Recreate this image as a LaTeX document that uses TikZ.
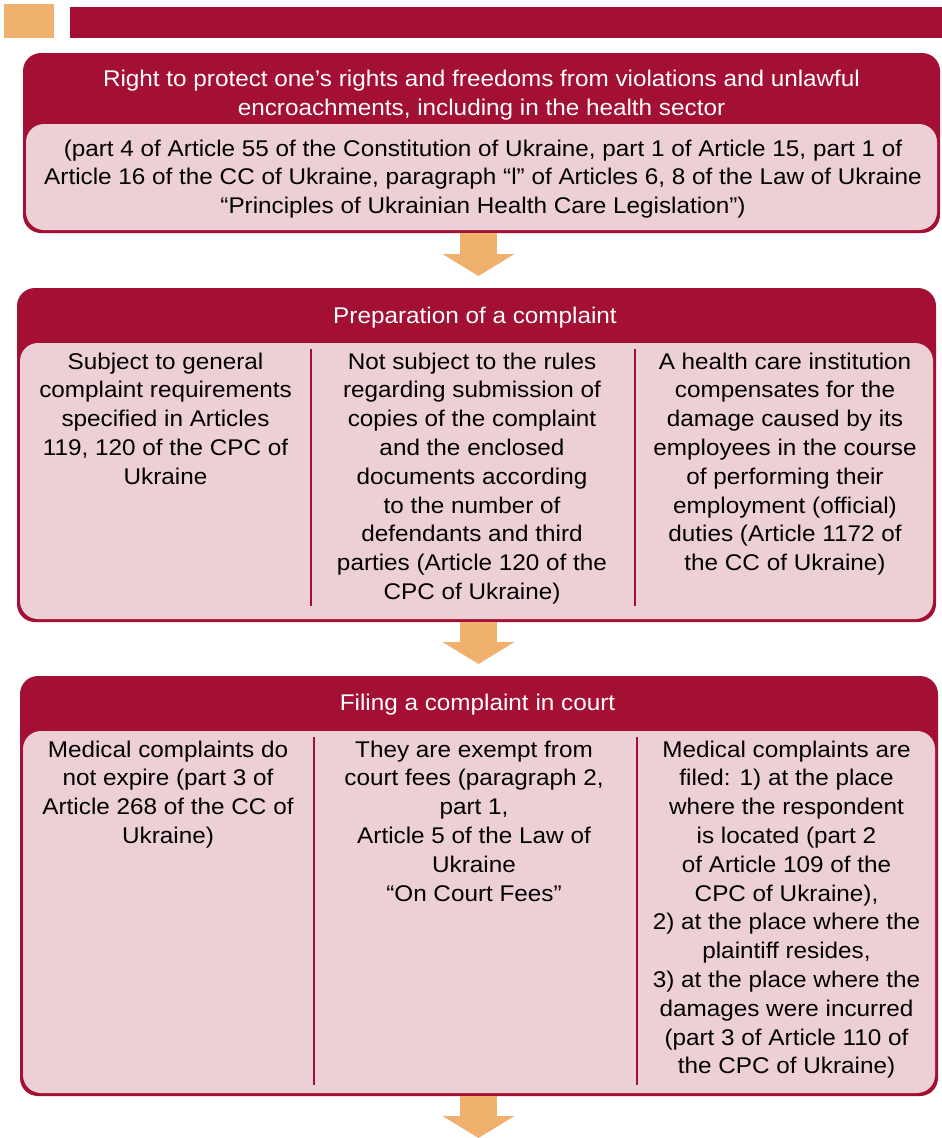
\documentclass[tikz,border=0pt]{standalone}
\usepackage{fontspec}
\setmainfont{Liberation Sans}[FakeStretch=1.07]
\usetikzlibrary{arrows.meta}
\definecolor{wine}{RGB}{163,16,52}
\definecolor{blush}{RGB}{237,207,214}
\definecolor{apricot}{RGB}{240,176,110}
\begin{document}
\begin{tikzpicture}[x=1pt,y=-1pt,
	outerbox/.style={fill=wine,rounded corners=18pt,inner sep=0pt},
	innerbox/.style={fill=blush,rounded corners=18pt,inner sep=0pt},
	headtext/.style={text=white,anchor=north,inner sep=0pt,align=center,font=\fontsize{22.7}{28.8}\selectfont},
	bodytext/.style={text=black,anchor=north,inner sep=0pt,align=center,font=\fontsize{22.7}{28.8}\selectfont},
	divider/.style={draw=wine,line width=2pt},
	flowarrow/.style={draw=apricot,line width=37pt,-{Triangle[width=71pt,length=22pt]}}]
	\useasboundingbox (0,0) rectangle (942,1138);

	\fill[apricot](4,4) rectangle (54,38);
	\fill[wine](70,7) rectangle (942,38);

	\node[outerbox,minimum width=917pt,minimum height=180pt] (rights) at (481.5,143) {};
	\node[innerbox,minimum width=911pt,minimum height=106pt] (rightsin) at (481.5,177) {};
	\node[headtext] (rightshead) at (481.5,70) {Right to protect one’s rights and freedoms from violations and unlawful\\encroachments, including in the health sector};
	\node[bodytext] (rightsbody) at (483,139.5) {(part 4 of Article 55 of the Constitution of Ukraine, part 1 of Article 15, part 1 of\\Article 16 of the CC of Ukraine, paragraph “l” of Articles 6, 8 of the Law of Ukraine\\“Principles of Ukrainian Health Care Legislation”)};

	\node[outerbox,minimum width=919pt,minimum height=334pt] (prep) at (476.5,455) {};
	\node[innerbox,minimum width=913pt,minimum height=276pt] (prepin) at (476.5,481) {};
	\node[headtext] (prephead) at (475,307) {Preparation of a complaint};
	\draw[divider](311,349)--(311,606);
	\draw[divider](635,349)--(635,606);
	\node[bodytext] (prepa) at (165.5,352.5) {Subject to general\\complaint requirements\\specified in Articles\\119, 120 of the CPC of\\Ukraine};
	\node[bodytext] (prepb) at (472,352.5) {Not subject to the rules\\regarding submission of\\copies of the complaint\\and the enclosed\\documents according\\to the number of\\defendants and third\\parties (Article 120 of the\\CPC of Ukraine)};
	\node[bodytext] (prepc) at (785,352.5) {A health care institution\\compensates for the\\damage caused by its\\employees in the course\\of performing their\\employment (official)\\duties (Article 1172 of\\the CC of Ukraine)};

	\node[outerbox,minimum width=918pt,minimum height=420pt] (filing) at (479,886) {};
	\node[innerbox,minimum width=912pt,minimum height=362pt] (filingin) at (479,912) {};
	\node[headtext] (filinghead) at (477.5,694) {Filing a complaint in court};
	\draw[divider](314,737)--(314,1085);
	\draw[divider](637,737)--(637,1085);
	\node[bodytext] (filinga) at (168,740.5) {Medical complaints do\\not expire (part 3 of\\Article 268 of the CC of\\Ukraine)};
	\node[bodytext] (filingb) at (474,740.5) {They are exempt from\\court fees (paragraph 2,\\part 1,\\Article 5 of the Law of\\Ukraine\\“On Court Fees”};
	\node[bodytext] (filingc) at (786.5,740.5) {Medical complaints are\\filed: 1) at the place\\where the respondent\\is located (part 2\\of Article 109 of the\\CPC of Ukraine),\\2) at the place where the\\plaintiff resides,\\3) at the place where the\\damages were incurred\\(part 3 of Article 110 of\\the CPC of Ukraine)};

	\coordinate (tipA) at (478.5,276);
	\coordinate (tipB) at (478.5,664);
	\coordinate (tipC) at (478.5,1138);
	\draw[flowarrow](tipA |- rights.south)--(tipA);
	\draw[flowarrow](tipB |- prep.south)--(tipB);
	\draw[flowarrow](tipC |- filing.south)--(tipC);
\end{tikzpicture}
\end{document}
